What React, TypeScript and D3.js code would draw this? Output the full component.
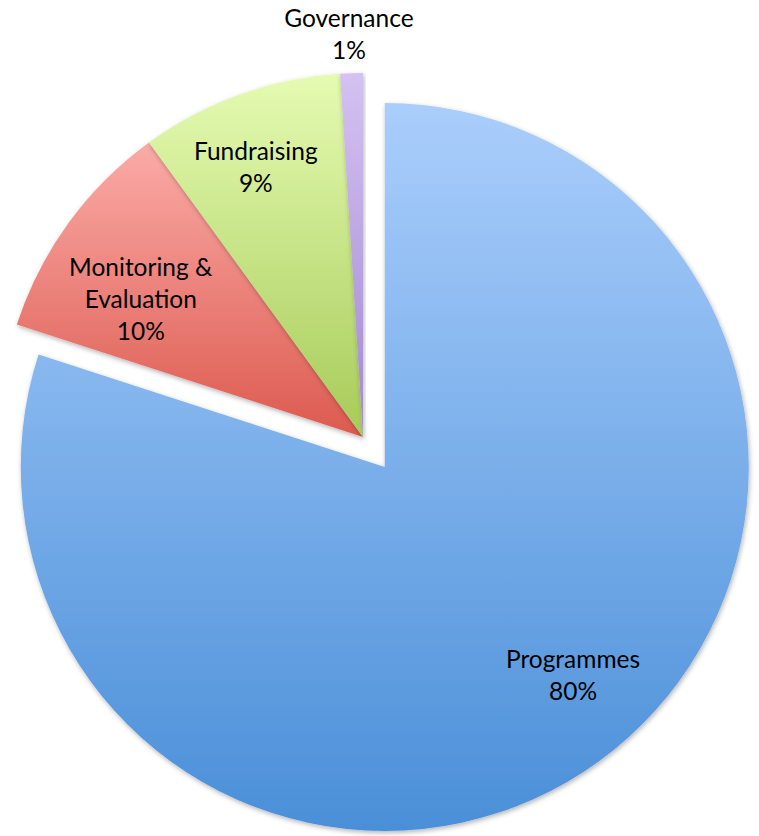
import React, { useEffect, useRef } from 'react';
import * as d3 from 'd3';

// Budget split, percent
const categories = ['Programmes', 'Monitoring & Evaluation', 'Fundraising', 'Governance'];
const values = [80, 10, 9, 1];
// label lines as Excel wrapped them
const labelLines = [['Programmes'], ['Monitoring &', 'Evaluation'], ['Fundraising'], ['Governance']];

const gradients = [
  ['#aacefc', '#4a8fd8'],
  ['#fbaba7', '#dc5a4f'],
  ['#e5fbb2', '#a7cb59'],
  ['#d4c2f2', '#a288d2'],
];

// best-fit label placement: [radius fraction, angle shift in degrees]
const labelFit = [
  [0.77, -6.2],
  [0.72, -4],
  [0.8, -1.8],
  [1.11, -0.2],
];

const W = 759;
const H = 836;

export default function App() {
  const svgRef = useRef<SVGSVGElement>(null);

  useEffect(() => {
    if (!svgRef.current) return;
    const svg = d3.select(svgRef.current);
    svg.selectAll('*').remove();

    const cx = 363;
    const cy = 437;
    const radius = 364;
    const explode = 37; // Programmes pulled out

    const defs = svg.append('defs');
    gradients.forEach((g, i) => {
      const lg = defs.append('linearGradient')
        .attr('id', `grad${i}`)
        .attr('x1', 0).attr('y1', 0).attr('x2', 0).attr('y2', 1);
      lg.append('stop').attr('offset', '0%').attr('stop-color', g[0]);
      lg.append('stop').attr('offset', '100%').attr('stop-color', g[1]);
    });
    defs.append('filter')
      .attr('id', 'shadow')
      .attr('x', '-10%').attr('y', '-10%').attr('width', '120%').attr('height', '120%')
      .append('feDropShadow')
      .attr('dx', 1).attr('dy', 2).attr('stdDeviation', 2.5)
      .attr('flood-color', '#000').attr('flood-opacity', 0.3);

    const pie = d3.pie<number>().sort(null).value(d => d);
    const arcs = pie(values);
    const arcGen = d3.arc<d3.PieArcDatum<number>>().innerRadius(0).outerRadius(radius);
    const total = d3.sum(values);

    const offsetOf = (i: number) => {
      if (i !== 0) return [0, 0];
      const mid = (arcs[i].startAngle + arcs[i].endAngle) / 2;
      return [Math.sin(mid) * explode, -Math.cos(mid) * explode];
    };

    const g = svg.append('g').attr('transform', `translate(${cx},${cy})`);

    g.selectAll('path.slice')
      .data(arcs)
      .enter()
      .append('path')
      .attr('class', 'slice')
      .attr('transform', (_, i) => `translate(${offsetOf(i)[0]},${offsetOf(i)[1]})`)
      .attr('d', d => arcGen(d))
      .attr('fill', (_, i) => `url(#grad${i})`)
      .attr('filter', 'url(#shadow)');

    const lineH = 32;
    arcs.forEach((a, i) => {
      const [rf, shift] = labelFit[i];
      const ang = (a.startAngle + a.endAngle) / 2 + (shift * Math.PI) / 180;
      const [ox, oy] = offsetOf(i);
      const lx = ox + Math.sin(ang) * radius * rf;
      const ly = oy - Math.cos(ang) * radius * rf;
      const lines = [...labelLines[i], `${Math.round((a.data / total) * 100)}%`];
      const top = ly - ((lines.length - 1) * lineH) / 2;
      const t = g.append('text')
        .attr('text-anchor', 'middle')
        .attr('font-family', 'Lato, "Open Sans", sans-serif')
        .attr('font-size', 24.5)
        .attr('fill', '#000');
      lines.forEach((ln, k) => {
        t.append('tspan')
          .attr('x', lx)
          .attr('y', top + k * lineH)
          .attr('dominant-baseline', 'central')
          .text(ln);
      });
    });
  }, []);

  return (
    <svg
      ref={svgRef}
      width={W}
      height={H}
      viewBox={`0 0 ${W} ${H}`}
      style={{ position: 'absolute', left: 0, top: 0, background: '#fff' }}
    />
  );
}
